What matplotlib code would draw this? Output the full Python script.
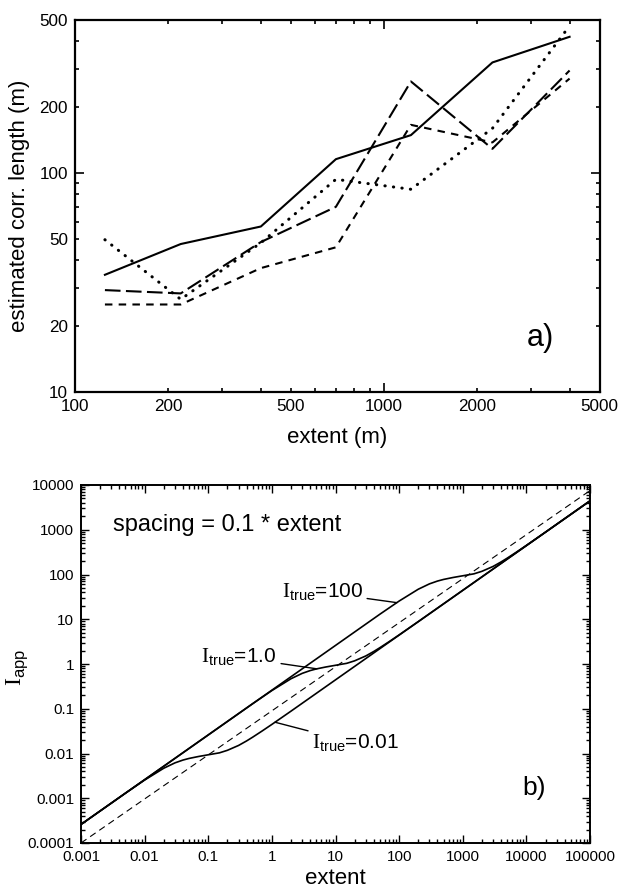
import matplotlib
matplotlib.use("Agg")
import matplotlib.pyplot as plt
from matplotlib.ticker import FixedLocator, NullFormatter, FuncFormatter
import numpy as np

plt.rcParams['font.family'] = ['Liberation Sans', 'DejaVu Sans']
plt.rcParams['mathtext.fontset'] = 'custom'
plt.rcParams['mathtext.rm'] = 'Liberation Serif'
plt.rcParams['mathtext.sf'] = 'Liberation Sans'

# ---------------- panel a data ----------------
extent_a = [125, 220, 400, 700, 1225, 2250, 4000]
solid_a = [34.3, 47.4, 57, 115.7, 149, 320, 419]
longdash_a = [29.2, 28.2, 48.4, 70.1, 262, 129, 294]
shortdash_a = [25.1, 25.1, 36.8, 45.8, 166, 138, 270]
dotted_a = [49.6, 26.5, 48, 93.6, 84.3, 160, 470]

xmajor_a = [100, 1000]
ymajor_a = [10, 100]
xminor_a = [200, 300, 400, 500, 600, 700, 800, 900, 2000, 3000, 4000, 5000]
yminor_a = [20, 30, 40, 50, 60, 70, 80, 90, 200, 300, 400, 500]
labelled_a = [10, 20, 50, 100, 200, 500, 1000, 2000, 5000]

# ---------------- panel b data ----------------
ext_001 = [0.001, 0.005, 0.01, 0.02, 0.03, 0.04, 0.05, 0.07, 0.1, 0.15, 0.2, 0.3,
           0.4, 0.5, 0.7, 1, 2, 5, 100000]
iapp_001 = [0.00026, 0.0013, 0.00255, 0.00469, 0.00618, 0.00713, 0.00776, 0.00856,
            0.00936, 0.01035, 0.01178, 0.01515, 0.01907, 0.02321, 0.03173, 0.04469,
            0.0885, 0.2212, 4420]

ext_1 = [0.001, 0.01, 0.1, 0.5, 1, 2, 3, 4, 5, 7, 10, 15, 20, 30, 40, 50, 70, 100,
         200, 500, 100000]
iapp_1 = [0.00026, 0.0026, 0.026, 0.13, 0.255, 0.469, 0.618, 0.713, 0.776, 0.856,
          0.936, 1.035, 1.178, 1.515, 1.907, 2.321, 3.173, 4.469, 8.85, 22.12, 4420]

ext_100 = [0.001, 1, 50, 100, 200, 300, 400, 500, 700, 1000, 1500, 2000, 3000, 4000,
           5000, 7000, 10000, 20000, 50000, 100000]
iapp_100 = [0.00026, 0.26, 13.0, 25.5, 46.9, 61.8, 71.3, 77.6, 85.6, 93.6, 103.5,
            117.8, 151.5, 190.7, 232.1, 317.3, 446.9, 885, 2212, 4420]

ext_ref = [0.001, 100000]
iapp_ref = [0.0001, 7500]

xdecades_b = [0.001, 0.01, 0.1, 1, 10, 100, 1000, 10000, 100000]
ydecades_b = [0.0001, 0.001, 0.01, 0.1, 1, 10, 100, 1000, 10000]

fig = plt.figure(figsize=(6.18, 8.93), dpi=100)

# ---------------- panel a ----------------
ax1 = fig.add_axes([75 / 618, 1 - 392 / 893, 524.5 / 618, 372 / 893])
ax1.set_xscale('log')
ax1.set_yscale('log')
ax1.plot(extent_a, solid_a, color='black', lw=1.5, ls='-')
ax1.plot(extent_a, longdash_a, color='black', lw=1.5, ls=(0, (7.5, 2.6)))
ax1.plot(extent_a, shortdash_a, color='black', lw=1.5, ls=(0, (3.6, 3.0)))
ax1.plot(extent_a, dotted_a, color='black', lw=2.2, ls=(0, (0.1, 2.7)),
         dash_capstyle='round')
ax1.set_xlim(100, 5000)
ax1.set_ylim(10, 500)
lab_fmt = FuncFormatter(lambda v, p: '{:g}'.format(v) if any(abs(v - t) < 1e-6 * t for t in labelled_a) else '')
ax1.xaxis.set_major_locator(FixedLocator(xmajor_a))
ax1.yaxis.set_major_locator(FixedLocator(ymajor_a))
ax1.xaxis.set_minor_locator(FixedLocator(xminor_a))
ax1.yaxis.set_minor_locator(FixedLocator(yminor_a))
for axis in (ax1.xaxis, ax1.yaxis):
    axis.set_major_formatter(lab_fmt)
    axis.set_minor_formatter(lab_fmt)
ax1.tick_params(which='both', direction='in', top=True, right=True, width=1.2,
                labelsize=12.3, pad=5)
ax1.tick_params(which='major', length=6.5)
ax1.tick_params(which='minor', length=3.2)
for s in ax1.spines.values():
    s.set_linewidth(1.6)
ax1.set_xlabel('extent (m)', fontsize=16)
ax1.xaxis.set_label_coords(0.5, (392 - 438) / 372)
ax1.xaxis.label.set_va('center')
ax1.set_ylabel('estimated corr. length (m)', fontsize=16)
ax1.yaxis.set_label_coords((20 - 75) / 524.5, 0.5)
ax1.yaxis.label.set_va('center')
ax1.text(0.861, 0.145, 'a)', transform=ax1.transAxes, fontsize=22, va='center')

# ---------------- panel b ----------------
ax2 = fig.add_axes([81 / 618, 1 - 843 / 893, 509 / 618, 358 / 893])
ax2.set_xscale('log')
ax2.set_yscale('log')
ax2.plot(ext_001, iapp_001, color='black', lw=1.2)
ax2.plot(ext_1, iapp_1, color='black', lw=1.2)
ax2.plot(ext_100, iapp_100, color='black', lw=1.2)
ax2.plot(ext_ref, iapp_ref, color='black', lw=0.8, ls=(0, (6, 4)))
ax2.set_xlim(0.001, 100000)
ax2.set_ylim(0.0001, 10000)
fmt = FuncFormatter(lambda v, p: '{:g}'.format(v))
ax2.xaxis.set_major_locator(FixedLocator(xdecades_b))
ax2.yaxis.set_major_locator(FixedLocator(ydecades_b))
ax2.xaxis.set_minor_locator(FixedLocator([d * k for d in xdecades_b[:-1] for k in range(2, 10)]))
ax2.yaxis.set_minor_locator(FixedLocator([d * k for d in ydecades_b[:-1] for k in range(2, 10)]))
for axis in (ax2.xaxis, ax2.yaxis):
    axis.set_major_formatter(fmt)
    axis.set_minor_formatter(NullFormatter())
ax2.tick_params(which='both', direction='in', top=True, right=True, width=1.0,
                labelsize=11, pad=5)
ax2.tick_params(which='major', length=6)
ax2.tick_params(which='minor', length=3)
for s in ax2.spines.values():
    s.set_linewidth(1.4)
ax2.set_xlabel('extent', fontsize=16)
ax2.xaxis.set_label_coords(0.5, (843 - 879) / 358)
ax2.xaxis.label.set_va('center')
ax2.set_ylabel(r'$\mathrm{I}_{\mathsf{app}}$', fontsize=17)
ax2.yaxis.set_label_coords((17 - 81) / 509, 0.49)
ax2.yaxis.label.set_va('center')
ax2.text(0.063, 0.888, 'spacing = 0.1 * extent', transform=ax2.transAxes,
         fontsize=17, va='center', ha='left')
ax2.text(0.868, 0.154, 'b)', transform=ax2.transAxes, fontsize=19, va='center')

lab = dict(fontsize=15, arrowprops=dict(arrowstyle='-', color='black', lw=1.0,
                                          shrinkA=1, shrinkB=0))
ax2.annotate(r'$\mathrm{I}_{\mathsf{true}}$=100', xy=(92, 23.5), xytext=(27, 40),
             ha='right', va='center', **lab)
ax2.annotate(r'$\mathrm{I}_{\mathsf{true}}$=1.0', xy=(5.1, 0.78), xytext=(1.2, 1.4),
             ha='right', va='center', **lab)
ax2.annotate(r'$\mathrm{I}_{\mathsf{true}}$=0.01', xy=(1.12, 0.05), xytext=(4.3, 0.017),
             ha='left', va='center', **lab)

fig.savefig('out.png', dpi=100)
